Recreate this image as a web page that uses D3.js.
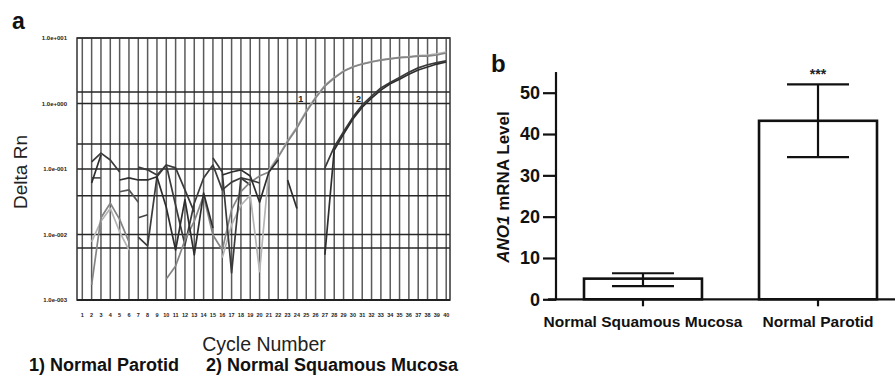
<!DOCTYPE html>
<html>
<head>
<meta charset="utf-8">
<script src="https://cdn.jsdelivr.net/npm/d3@7"></script>
<style>
  body { margin: 0; background: #fff; }
  svg { display: block; font-family: "Liberation Sans", Arial, sans-serif; }
</style>
</head>
<body>
<svg id="chart" width="895" height="379"></svg>
<script>
// ---- panel a data: qPCR amplification plot (log Delta Rn vs cycle) ----
const cycles = d3.range(1, 41);
const yTickValues = [10, 1, 0.1, 0.01, 0.001];
const yTickLabels = ["1.0e+001", "1.0e+000", "1.0e-001", "1.0e-002", "1.0e-003"];
const gridRows = [10, 1.5, 1, 0.24, 0.1, 0.039, 0.01, 0.0062, 0.001];

// [cycle, delta Rn], null = dropped out of the log plot
const parotidA = [[2,0.0017],[3,0.018],[4,0.030],[5,0.017],[6,0.0077],[7,null],
  [10,0.0021],[11,0.0033],[12,0.0082],[13,0.016],[14,0.039],[15,0.0098],[16,0.0058],[17,0.024],
  [18,0.045],[19,0.063],[20,0.078],[21,0.090],[22,0.152],[23,0.26],[24,0.42],[25,0.74],[26,1.21],
  [27,1.85],[28,2.45],[29,3.1],[30,3.6],[31,4.0],[32,4.3],[33,4.6],[34,4.8],[35,5.0],[36,5.1],
  [37,5.3],[38,5.3],[39,5.5],[40,5.9]];
const parotidB = [[2,0.0077],[3,0.016],[4,0.025],[5,0.011],[6,0.0058],[7,null],
  [16,0.0044],[17,0.014],[18,0.028],[19,0.040],[20,0.0027],[21,0.097],[22,0.155],[23,0.27],
  [24,0.44],[25,0.77],[26,1.25],[27,1.9],[28,2.5],[29,3.15],[30,3.65],[31,4.05],[32,4.35],
  [33,4.65],[34,4.85],[35,5.05],[36,5.2],[37,5.4],[38,5.5],[39,5.75],[40,6.1]];
const mucosaA = [[2,0.128],[3,0.175],[4,0.137],[5,0.090],[6,null],[7,0.107],[8,0.097],[9,0.081],
  [10,0.115],[11,0.104],[12,0.048],[13,0.022],[14,null],[15,0.147],[16,0.090],[17,0.0026],
  [18,0.073],[19,0.068],[20,0.061],[21,null],[27,0.104],[28,0.217],[29,0.37],[30,0.62],[31,0.95],
  [32,1.30],[33,1.73],[34,2.1],[35,2.5],[36,3.0],[37,3.5],[38,3.9],[39,4.2],[40,4.5]];
const mucosaB = [[2,0.061],[3,0.164],[4,null],[5,0.068],[6,0.073],[7,0.068],[8,0.068],[9,0.076],
  [10,0.026],[11,0.0058],[12,0.034],[13,0.0049],[14,0.043],[15,0.0126],[15.5,null],[16,0.081],
  [17,0.090],[18,0.097],[19,0.078],[20,0.031],[21,0.090],[22,0.137],[22.5,null],[23,0.068],
  [24,0.025],[25,null],[27,0.0049],[28,0.195],[29,0.34],[30,0.58],[31,0.88],[32,1.21],[33,1.6],
  [34,2.0],[35,2.35],[36,2.8],[37,3.25],[38,3.6],[39,4.0],[40,4.3]];
const noiseA = [[2,0.073],[3,0.073],[4,null],[5,0.045],[6,0.048],[7,0.031]];
const noiseB = [[7,0.018],[8,0.020]];
const noiseC = [[7,0.0091],[8,0.0067],[9,0.076],[10,0.115],[11,0.028],[12,0.0069],[13,0.030],
  [14,0.073],[15,0.115],[16,0.048],[17,0.063],[18,0.073],[19,0.057]];

const traces = [
  { data: noiseA, color: "#555" },
  { data: noiseB, color: "#444" },
  { data: noiseC, color: "#3c3c3c" },
  { data: parotidB, color: "#b4b4b4" },
  { data: parotidA, color: "#858585" },
  { data: mucosaA, color: "#3a3a3a" },
  { data: mucosaB, color: "#2e2e2e" }
];
const curveLabels = [{ text: "1", cycle: 24.4, value: 1.05 }, { text: "2", cycle: 30.6, value: 1.05 }];

// ---- panel b data: ANO1 mRNA level ----
const groups = ["Normal Squamous Mucosa", "Normal Parotid"];
const means = [5.0, 43.2];
const errHigh = [6.3, 52.0];
const errLow = [3.2, 34.4];
const yTicksB = [0, 10, 20, 30, 40, 50];

const svg = d3.select("#chart");

// ================= panel a =================
const frame = { left: 77, right: 450, top: 38, bottom: 300 };
const xA = d3.scaleLinear().domain([1, 40]).range([82.3, 446.2]);
const yA = d3.scaleLog().domain([0.001, 10]).range([frame.bottom, frame.top]);

const ga = svg.append("g");

ga.selectAll("line.vgrid").data(cycles).join("line")
  .attr("class", "vgrid")
  .attr("x1", d => xA(d)).attr("x2", d => xA(d))
  .attr("y1", frame.top).attr("y2", frame.bottom)
  .attr("stroke", "#5a5a5a").attr("stroke-width", 1.5);

ga.selectAll("line.hgrid").data(gridRows).join("line")
  .attr("class", "hgrid")
  .attr("x1", frame.left).attr("x2", frame.right)
  .attr("y1", d => yA(d)).attr("y2", d => yA(d))
  .attr("stroke", "#262626").attr("stroke-width", 1.5);

ga.append("rect")
  .attr("x", frame.left).attr("y", frame.top)
  .attr("width", frame.right - frame.left).attr("height", frame.bottom - frame.top)
  .attr("fill", "none").attr("stroke", "#333").attr("stroke-width", 1.5);
ga.append("line")
  .attr("x1", frame.left).attr("x2", frame.right)
  .attr("y1", frame.bottom).attr("y2", frame.bottom)
  .attr("stroke", "#222").attr("stroke-width", 2);

const line = d3.line()
  .defined(d => d[1] != null)
  .x(d => xA(d[0]))
  .y(d => yA(d[1]));

ga.selectAll("path.trace").data(traces).join("path")
  .attr("class", "trace")
  .attr("fill", "none")
  .attr("stroke", d => d.color)
  .attr("stroke-width", 1.7)
  .attr("stroke-linejoin", "round")
  .attr("d", d => line(d.data));

ga.selectAll("text.clabel").data(curveLabels).join("text")
  .attr("class", "clabel")
  .attr("x", d => xA(d.cycle)).attr("y", d => yA(d.value))
  .attr("text-anchor", "middle")
  .attr("font-size", 9).attr("font-weight", "bold").attr("fill", "#222")
  .text(d => d.text);

// y tick labels
ga.selectAll("text.ytick").data(yTickValues).join("text")
  .attr("class", "ytick")
  .attr("x", 67).attr("y", d => yA(d)).attr("dy", "0.35em")
  .attr("text-anchor", "end")
  .attr("font-size", 6).attr("font-weight", "bold").attr("fill", "#222")
  .text((d, i) => yTickLabels[i]);

// x tick labels
ga.selectAll("text.xtick").data(cycles).join("text")
  .attr("class", "xtick")
  .attr("x", d => xA(d)).attr("y", 317)
  .attr("text-anchor", "middle")
  .attr("font-size", 5.5).attr("font-weight", "bold").attr("fill", "#222")
  .text(d => d);

ga.append("text")
  .attr("transform", "translate(27,172) rotate(-90)")
  .attr("text-anchor", "middle")
  .attr("font-size", 19).attr("fill", "#222")
  .text("Delta Rn");

ga.append("text")
  .attr("x", 264).attr("y", 351)
  .attr("text-anchor", "middle")
  .attr("font-size", 19.5).attr("fill", "#222")
  .text("Cycle Number");

ga.append("text")
  .attr("x", 29).attr("y", 371)
  .attr("font-size", 18).attr("font-weight", "bold").attr("fill", "#111")
  .text("1) Normal Parotid");
ga.append("text")
  .attr("x", 206).attr("y", 371)
  .attr("font-size", 18).attr("font-weight", "bold").attr("fill", "#111")
  .text("2) Normal Squamous Mucosa");

svg.append("text")
  .attr("x", 12).attr("y", 29)
  .attr("font-size", 23).attr("font-weight", "bold").attr("fill", "#111")
  .text("a");

// ================= panel b =================
const axisX = 556;
const baseY = 299.3;
const xB = d3.scaleBand().domain(groups).range([556, 905]).paddingInner(0.326).paddingOuter(0.16);
const yB = d3.scaleLinear().domain([0, 50]).range([baseY, 92.7]);

const gb = svg.append("g");

gb.selectAll("rect.bar").data(groups).join("rect")
  .attr("class", "bar")
  .attr("x", d => xB(d)).attr("width", xB.bandwidth())
  .attr("y", (d, i) => yB(means[i])).attr("height", (d, i) => baseY - yB(means[i]))
  .attr("fill", "#fff").attr("stroke", "#111").attr("stroke-width", 2.6);

const capW = 31;
const eb = gb.selectAll("g.err").data(groups).join("g").attr("class", "err")
  .attr("stroke", "#111").attr("stroke-width", 2.2);
eb.append("line")
  .attr("x1", d => xB(d) + xB.bandwidth() / 2).attr("x2", d => xB(d) + xB.bandwidth() / 2)
  .attr("y1", (d, i) => yB(errHigh[i])).attr("y2", (d, i) => yB(errLow[i]));
eb.append("line")
  .attr("x1", d => xB(d) + xB.bandwidth() / 2 - capW).attr("x2", d => xB(d) + xB.bandwidth() / 2 + capW)
  .attr("y1", (d, i) => yB(errHigh[i])).attr("y2", (d, i) => yB(errHigh[i]));
eb.append("line")
  .attr("x1", d => xB(d) + xB.bandwidth() / 2 - capW).attr("x2", d => xB(d) + xB.bandwidth() / 2 + capW)
  .attr("y1", (d, i) => yB(errLow[i])).attr("y2", (d, i) => yB(errLow[i]));

gb.append("text")
  .attr("x", xB(groups[1]) + xB.bandwidth() / 2).attr("y", yB(errHigh[1]) - 5)
  .attr("text-anchor", "middle")
  .attr("font-size", 14).attr("font-weight", "bold").attr("fill", "#222")
  .text("***");

// y axis
const yAxisB = d3.axisLeft(yB).tickValues(yTicksB).tickSize(13).tickPadding(3);
const ya = gb.append("g").attr("transform", `translate(${axisX},0)`).call(yAxisB);
ya.select(".domain").remove();
ya.selectAll(".tick line").attr("stroke", "#111").attr("stroke-width", 2.2);
ya.selectAll(".tick text")
  .attr("font-family", "Liberation Sans, Arial, sans-serif")
  .attr("font-size", 18).attr("font-weight", "bold").attr("fill", "#111");
gb.append("line")
  .attr("x1", axisX).attr("x2", axisX)
  .attr("y1", yB(55)).attr("y2", baseY + 1)
  .attr("stroke", "#111").attr("stroke-width", 2.2);

// x axis
const xAxisB = d3.axisBottom(xB).tickSize(7).tickPadding(10);
const xa = gb.append("g").attr("transform", `translate(0,${baseY})`).call(xAxisB);
xa.select(".domain").remove();
xa.selectAll(".tick line").attr("stroke", "#111").attr("stroke-width", 2.2);
xa.selectAll(".tick text")
  .attr("font-family", "Liberation Sans, Arial, sans-serif")
  .attr("font-size", 15.5).attr("font-weight", "bold").attr("fill", "#111");
gb.append("line")
  .attr("x1", 548).attr("x2", 895)
  .attr("y1", baseY).attr("y2", baseY)
  .attr("stroke", "#111").attr("stroke-width", 2.2);

const yTitle = gb.append("text")
  .attr("transform", "translate(509,187) rotate(-90)")
  .attr("text-anchor", "middle")
  .attr("font-size", 17).attr("font-weight", "bold").attr("fill", "#111");
yTitle.append("tspan").attr("font-style", "italic").text("ANO1");
yTitle.append("tspan").text(" mRNA Level");

svg.append("text")
  .attr("x", 491).attr("y", 72)
  .attr("font-size", 24).attr("font-weight", "bold").attr("fill", "#111")
  .text("b");
</script>
</body>
</html>
